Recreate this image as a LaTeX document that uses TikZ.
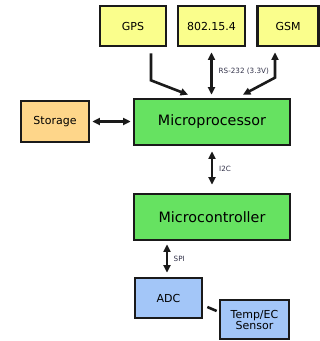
\documentclass[tikz,border=0pt]{standalone}
\usepackage{fontspec}
\setmainfont{DejaVu Sans}
\usetikzlibrary{arrows.meta}
\definecolor{cyel}{HTML}{FAFE8C}
\definecolor{cgrn}{HTML}{66E261}
\definecolor{corg}{HTML}{FED68A}
\definecolor{cblu}{HTML}{A3C6F8}
\definecolor{cline}{HTML}{1A1A1A}
\definecolor{clab}{HTML}{33334A}
\tikzset{
  blk/.style={draw=cline, line width=2.7pt, rectangle, inner sep=0pt, align=center},
  smallf/.style={font=\fontsize{11}{11}\selectfont},
  bigf/.style={font=\fontsize{14.3}{14.3}\selectfont},
  conn/.style={draw=cline, line width=2.6pt},
  sarr/.style={conn, -{Triangle[length=7.5pt,width=7pt]}},
  darr/.style={conn, {Triangle[length=7.5pt,width=7pt]}-{Triangle[length=7.5pt,width=7pt]}},
  lab/.style={font=\fontsize{7.2}{7.2}\selectfont, text=clab, inner sep=0pt, anchor=west}
}
\begin{document}
\begin{tikzpicture}[x=1pt,y=-1pt]
\useasboundingbox (0,0) rectangle (320,341);
\node[blk, smallf, fill=cyel, minimum width=66pt, minimum height=40pt] (gps) at (133,26) {GPS};
\node[blk, smallf, fill=cyel, minimum width=67pt, minimum height=40pt] (zig) at (211.5,26) {802.15.4};
\node[blk, smallf, fill=cyel, minimum width=61pt, minimum height=40pt] (gsm) at (288,26) {GSM};
\node[blk, smallf, fill=corg, minimum width=68pt, minimum height=41pt] (st) at (55,121.5) {Storage};
\node[blk, bigf, fill=cgrn, minimum width=156pt, minimum height=46pt] (mp) at (212,122) {Microprocessor};
\node[blk, bigf, fill=cgrn, minimum width=156pt, minimum height=46pt] (mc) at (212,217) {Microcontroller};
\node[blk, smallf, fill=cblu, minimum width=67pt, minimum height=40pt] (adc) at (168.5,298) {ADC};
\node[blk, smallf, fill=cblu, minimum width=69pt, minimum height=39pt] (sens) at (254.5,319.5) {Temp/EC\\Sensor};

\draw[sarr] ([xshift=18pt,yshift=-6pt]gps.south) -- ++(0,27) -- ([xshift=-24pt,yshift=3pt]mp.north);
\draw[darr] ([yshift=-5pt]zig.south) -- ([yshift=3pt]zig.south |- mp.north);
\draw[darr] ([xshift=31pt,yshift=3pt]mp.north) -- ++(32,-17) -- ([xshift=-13pt,yshift=-5pt]gsm.south);
\draw[darr] ([xshift=2pt]st.east) -- ([xshift=-2pt]st.east -| mp.west);
\draw[darr] ([yshift=-5pt]mp.south) -- ([yshift=8pt]mc.north);
\draw[darr] ([xshift=-1.5pt,yshift=-3pt]mc.south -| adc.north) -- ([xshift=-1.5pt,yshift=4pt]adc.north);
\draw[conn] ([xshift=4pt,yshift=-9pt]adc.east) -- ([xshift=-2pt,yshift=8.5pt]sens.west);

\node[lab] (l1) at (218.5,71) {RS-232 (3.3V)};
\node[lab] (l2) at (219,169) {I2C};
\node[lab] (l3) at (173.5,259) {SPI};
\end{tikzpicture}
\end{document}
